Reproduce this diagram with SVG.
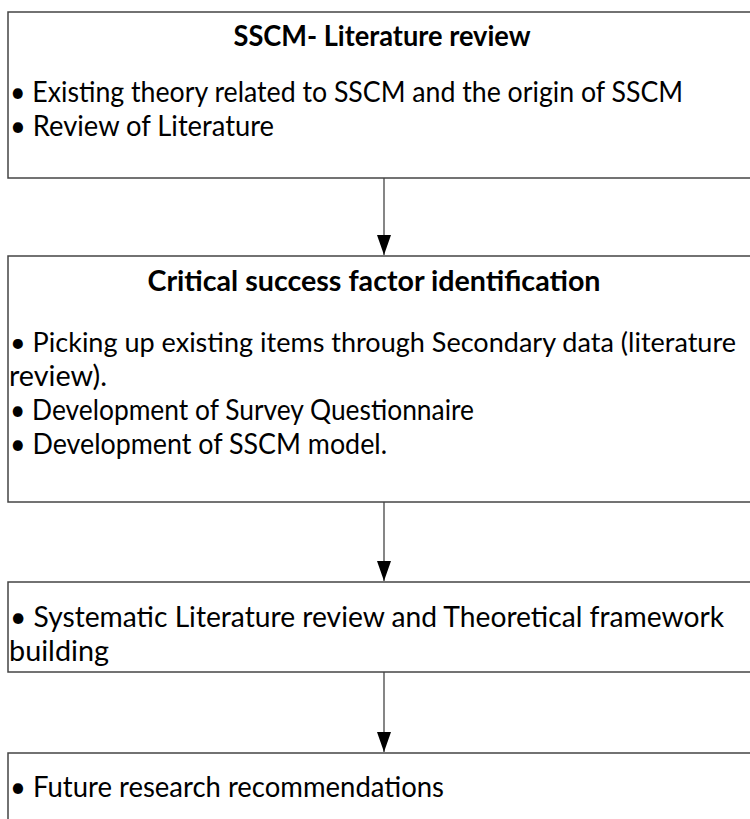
<svg xmlns="http://www.w3.org/2000/svg" width="750" height="819" viewBox="0 0 750 819">
<style>
.box{fill:#fff;stroke:#444;stroke-width:1.5}
.t{font-family:Lato,"Open Sans","Liberation Sans",sans-serif;font-size:29px;fill:#000}
.b{font-weight:bold;text-anchor:middle}
.conn{stroke:#444;stroke-width:1.3;fill:none}
</style>
<defs>
<marker id="ah" markerWidth="20" markerHeight="14" refX="20" refY="7" orient="auto" markerUnits="userSpaceOnUse" viewBox="0 0 20 14">
<path d="M0,0 L20,7 L0,14 Z" fill="#000"/>
</marker>
</defs>
<rect width="750" height="819" fill="#fff"/>
<g id="node1">
<rect class="box" x="8" y="12" width="760" height="166"/>
<text class="t b" x="382" y="46" textLength="297" lengthAdjust="spacingAndGlyphs">SSCM- Literature review</text>
<text class="t" x="10" y="102" textLength="673" lengthAdjust="spacingAndGlyphs">• Existing theory related to SSCM and the origin of SSCM</text>
<text class="t" x="10" y="136" textLength="264" lengthAdjust="spacingAndGlyphs">• Review of Literature</text>
</g>
<g id="node2">
<rect class="box" x="8" y="256" width="760" height="246"/>
<text class="t b" x="374" y="291" textLength="453" lengthAdjust="spacingAndGlyphs">Critical success factor identification</text>
<text class="t" x="10" y="352" style="font-size:27px" textLength="726" lengthAdjust="spacingAndGlyphs">• Picking up existing items through Secondary data (literature</text>
<text class="t" x="9" y="386" textLength="98" lengthAdjust="spacingAndGlyphs">review).</text>
<text class="t" x="10" y="420" textLength="464" lengthAdjust="spacingAndGlyphs">• Development of Survey Questionnaire</text>
<text class="t" x="10" y="454" textLength="377" lengthAdjust="spacingAndGlyphs">• Development of SSCM model.</text>
</g>
<g id="node3">
<rect class="box" x="8" y="582" width="760" height="90"/>
<text class="t" x="10" y="627" textLength="714" lengthAdjust="spacingAndGlyphs">• Systematic Literature review and Theoretical framework</text>
<text class="t" x="9" y="661" textLength="100" lengthAdjust="spacingAndGlyphs">building</text>
</g>
<g id="node4">
<rect class="box" x="8" y="753" width="760" height="100"/>
<text class="t" x="10" y="797" textLength="434" lengthAdjust="spacingAndGlyphs">• Future research recommendations</text>
</g>
<g id="connectors">
<line class="conn" x1="384" y1="178" x2="384" y2="255" marker-end="url(#ah)"/>
<line class="conn" x1="384" y1="502" x2="384" y2="581" marker-end="url(#ah)"/>
<line class="conn" x1="384" y1="672" x2="384" y2="752" marker-end="url(#ah)"/>
</g>
</svg>
